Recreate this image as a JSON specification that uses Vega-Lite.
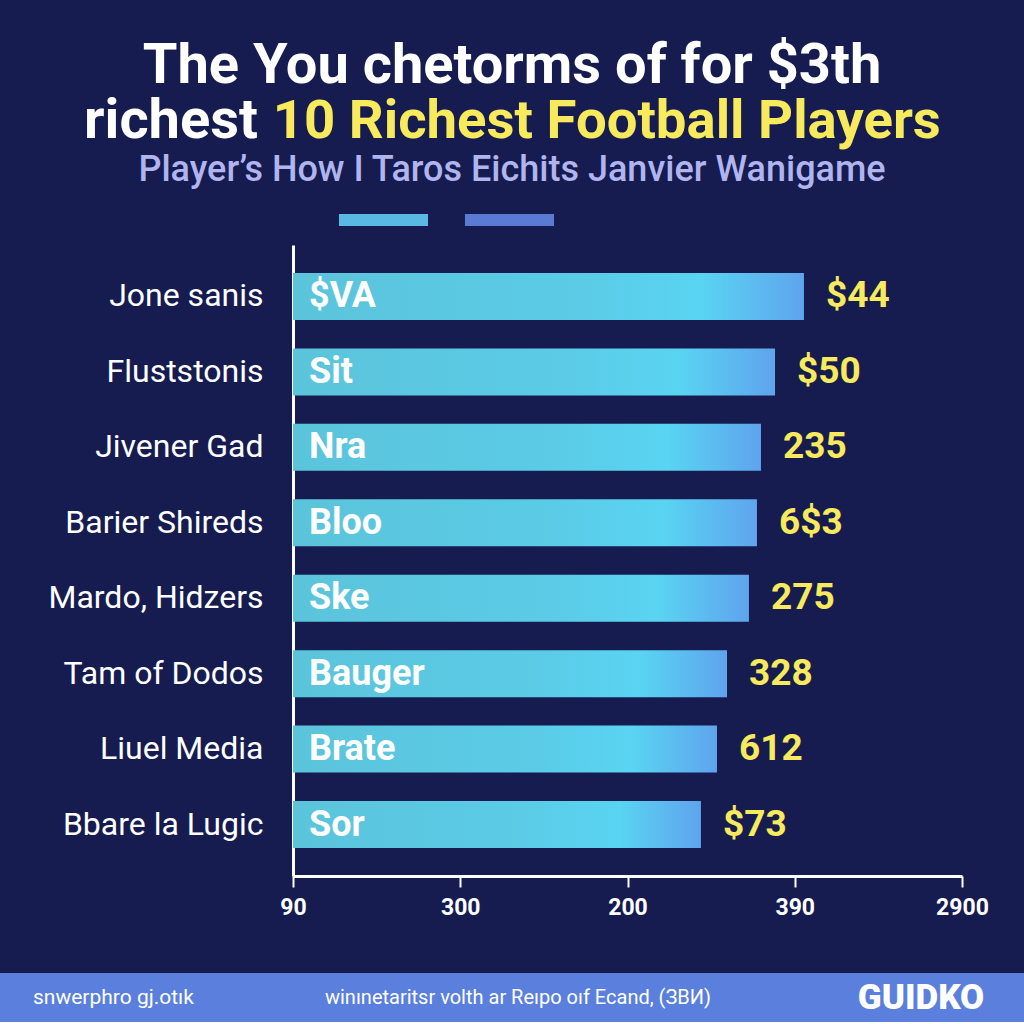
{
  "$schema": "https://vega.github.io/schema/vega-lite/v6.json",
  "background": "#161c50",
  "padding": {"top": 38, "left": 0, "right": 0, "bottom": 0},
  "spacing": 97,
  "bounds": "flush",
  "datasets": {
    "players": [
      {"player": "Jone sanis", "inner": "$VA", "amount": "$44", "value": 3.055},
      {"player": "Fluststonis", "inner": "Sit", "amount": "$50", "value": 2.882},
      {"player": "Jivener Gad", "inner": "Nra", "amount": "235", "value": 2.798},
      {"player": "Barier Shireds", "inner": "Bloo", "amount": "6$3", "value": 2.774},
      {"player": "Mardo, Hidzers", "inner": "Ske", "amount": "275", "value": 2.726},
      {"player": "Tam of Dodos", "inner": "Bauger", "amount": "328", "value": 2.595},
      {"player": "Liuel Media", "inner": "Brate", "amount": "612", "value": 2.535},
      {"player": "Bbare la Lugic", "inner": "Sor", "amount": "$73", "value": 2.439}
    ],
    "keys": [{"band": "A"}, {"band": "B"}],
    "footer": [
      {"slot": "left", "label": "snwerphro gj.otık"},
      {"slot": "center", "label": "winınetaritsr volth ar Reıpo oıf Ecand, (ЗВИ)"},
      {"slot": "right", "label": "GUIDKO"}
    ]
  },
  "title": {
    "text": ["The You chetorms of for $3th", "richest\u00a0\u00a0\u00a0\u00a0\u00a0\u00a0\u00a0\u00a0\u00a0\u00a0\u00a0\u00a0\u00a0\u00a0\u00a0\u00a0\u00a0\u00a0\u00a0\u00a0\u00a0\u00a0\u00a0\u00a0\u00a0\u00a0\u00a0\u00a0\u00a0\u00a0\u00a0\u00a0\u00a0\u00a0\u00a0\u00a0\u00a0\u00a0\u00a0\u00a0\u00a0\u00a0\u00a0\u00a0\u00a0\u00a0\u00a0\u00a0\u00a0\u200b"],
    "subtitle": "\u200b\u00a0\u00a0\u00a0\u00a0\u00a0\u00a0\u00a0\u00a0\u00a0\u00a0\u00a0\u00a0\u00a0\u00a010 Richest Football Players",
    "color": "#ffffff",
    "subtitleColor": "#f7ea5c",
    "font": "Roboto",
    "subtitleFont": "Roboto",
    "fontSize": 56,
    "subtitleFontSize": 54.5,
    "fontWeight": "bold",
    "subtitleFontWeight": "bold",
    "lineHeight": 55,
    "subtitleLineHeight": 55,
    "subtitlePadding": -55,
    "anchor": "middle",
    "offset": 2
  },
  "vconcat": [
    {
      "width": 1024,
      "height": 631,
      "view": {"stroke": null},
      "title": {
        "text": "Player’s How I Taros Eichits Janvier Wanigame",
        "color": "#b1b5ef",
        "font": "Roboto",
        "fontSize": 36,
        "fontWeight": 500,
        "anchor": "middle",
        "offset": 56
      },
      "layer": [
        {
          "data": {"name": "players"},
          "mark": {
            "type": "bar",
            "color": {
              "gradient": "linear",
              "x1": 0, "y1": 0, "x2": 1, "y2": 0,
              "stops": [
                {"offset": 0, "color": "#5bc4db"},
                {"offset": 0.55, "color": "#5bcbe6"},
                {"offset": 0.8, "color": "#59d4f2"},
                {"offset": 1, "color": "#5fa4ee"}
              ]
            }
          },
          "encoding": {
            "y": {
              "field": "player",
              "type": "nominal",
              "sort": null,
              "scale": {"paddingInner": 0.377, "paddingOuter": 0.371},
              "axis": {
                "title": null,
                "offset": -293,
                "domainColor": "#ffffff",
                "domainWidth": 3,
                "ticks": false,
                "labelColor": "#ffffff",
                "labelFont": "Roboto",
                "labelFontSize": 32,
                "labelPadding": 30,
                "labelLimit": 400
              }
            },
            "x": {
              "field": "value",
              "type": "quantitative",
              "scale": {"domain": [0, 4], "range": [293, 962], "nice": false},
              "axis": {
                "title": null,
                "values": [0, 1, 2, 3, 4],
                "labelExpr": "['90','300','200','390','2900'][datum.value]",
                "grid": false,
                "domainColor": "#ffffff",
                "domainWidth": 3,
                "tickColor": "#ffffff",
                "tickWidth": 2,
                "tickSize": 11,
                "labelColor": "#ffffff",
                "labelFont": "Roboto",
                "labelFontSize": 23,
                "labelFontWeight": "bold",
                "labelPadding": 9,
                "labelFlush": false,
                "labelOverlap": false
              }
            }
          }
        },
        {
          "data": {"name": "players"},
          "mark": {"type": "text", "align": "left", "baseline": "middle", "dx": 16, "color": "#ffffff", "font": "Roboto", "fontSize": 36, "fontWeight": "bold"},
          "encoding": {
            "y": {"field": "player", "type": "nominal", "sort": null},
            "x": {"datum": 0, "type": "quantitative"},
            "text": {"field": "inner"}
          }
        },
        {
          "data": {"name": "players"},
          "mark": {"type": "text", "align": "left", "baseline": "middle", "dx": 22, "color": "#f7ea5c", "font": "Roboto", "fontSize": 37, "fontWeight": "bold"},
          "encoding": {
            "y": {"field": "player", "type": "nominal", "sort": null},
            "x": {"field": "value", "type": "quantitative"},
            "text": {"field": "amount"}
          }
        },
        {
          "data": {"name": "keys"},
          "mark": {"type": "point", "filled": true, "opacity": 0},
          "encoding": {
            "color": {
              "field": "band",
              "type": "nominal",
              "scale": {"domain": ["A", "B"], "range": ["#5ab9e3", "#5a7ad4"]},
              "legend": {
                "title": null,
                "orient": "none",
                "legendX": 377.5,
                "legendY": -31,
                "direction": "horizontal",
                "padding": 0,
                "columnPadding": 36,
                "labelOffset": 0,
                "labelExpr": "''",
                "labelFontSize": 1,
                "symbolType": "M-7.42,-1H7.42V1H-7.42Z",
                "symbolSize": 144,
                "symbolOpacity": 1,
                "symbolStrokeWidth": 0,
                "encode": {
                  "symbols": {
                    "update": {
                      "opacity": {"value": 1},
                      "fillOpacity": {"value": 1},
                      "strokeWidth": {"value": 0}
                    }
                  }
                }
              }
            }
          }
        }
      ]
    },
    {
      "width": 1024,
      "height": 49,
      "view": {"fill": "#5b7fdc", "stroke": null},
      "data": {"name": "footer"},
      "encoding": {
        "x": {"field": "slot", "type": "nominal", "scale": {"type": "point", "domain": ["left", "center", "right"], "range": [33, 921], "padding": 0}, "axis": null},
        "text": {"field": "label"}
      },
      "layer": [
        {"transform": [{"filter": "datum.slot === 'left'"}], "mark": {"type": "text", "align": "left", "baseline": "middle", "color": "#ffffff", "font": "Roboto", "fontSize": 21}},
        {"transform": [{"filter": "datum.slot === 'center'"}], "mark": {"type": "text", "align": "center", "baseline": "middle", "dx": 41, "color": "#ffffff", "font": "Roboto", "fontSize": 20}},
        {"transform": [{"filter": "datum.slot === 'right'"}], "mark": {"type": "text", "align": "center", "baseline": "middle", "color": "#ffffff", "font": "Roboto", "fontSize": 35, "fontWeight": 900}}
      ]
    }
  ]
}
